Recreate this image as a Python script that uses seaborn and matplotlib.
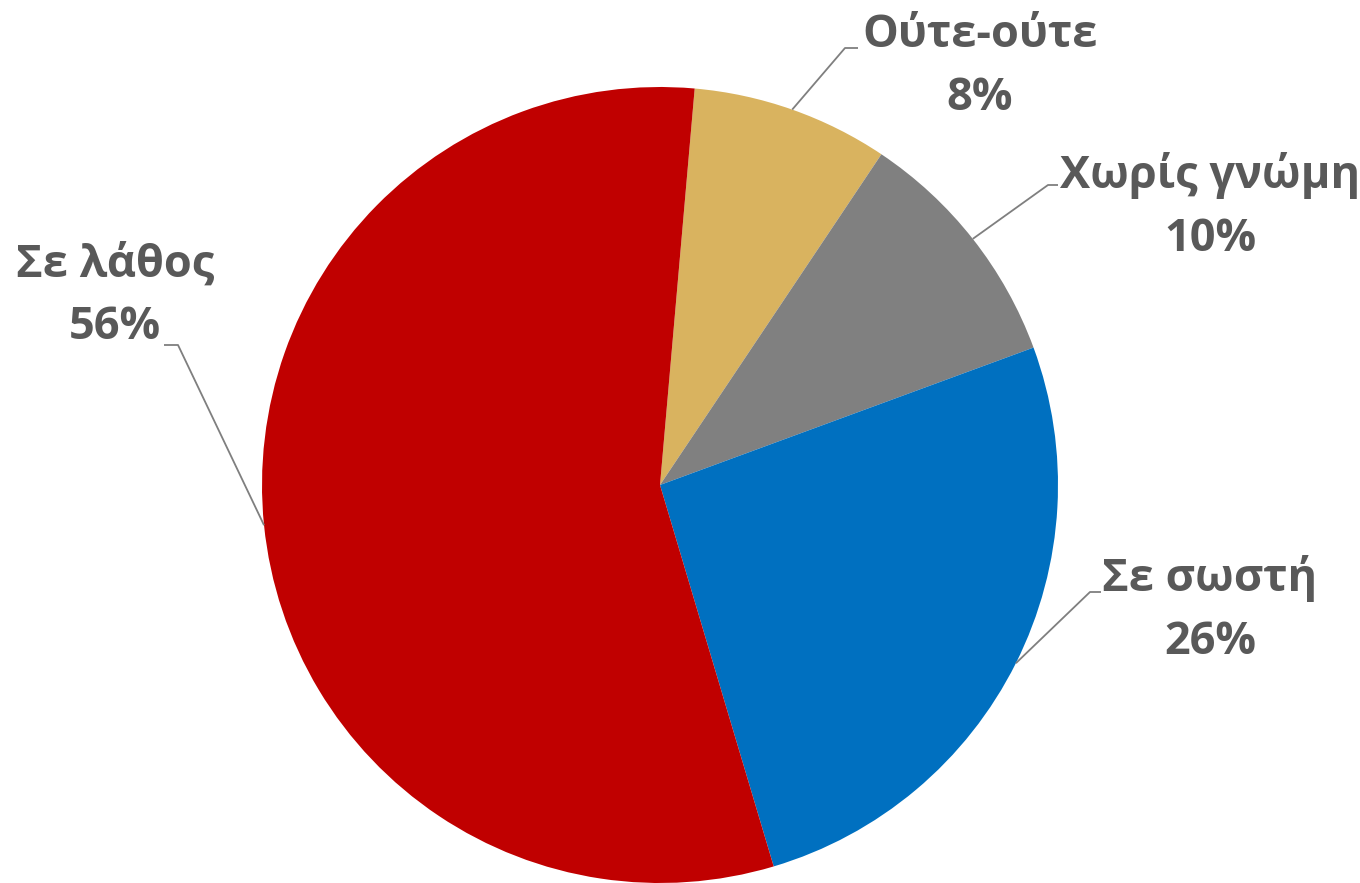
import numpy as np
import matplotlib
matplotlib.use("Agg")
import matplotlib.pyplot as plt
import seaborn as sns

categories = ["Ούτε-ούτε", "Χωρίς γνώμη", "Σε σωστή", "Σε λάθος"]
values = [8, 10, 26, 56]
colors = ["#D9B35F", "#808080", "#0070C0", "#C00000"]

sns.set_theme(style="white")
plt.rcParams['font.family'] = ['Open Sans', 'DejaVu Sans']

W, H = 1360, 883
CX, CY, R = 660, 485, 398

def px(x, y):
    return (x - CX) / R, (CY - y) / R

fig = plt.figure(figsize=(W / 100, H / 100), dpi=100)
ax = fig.add_axes([0, 0, 1, 1])
wedges, _ = ax.pie(values, colors=colors, startangle=85, counterclock=False,
                   radius=1.0, wedgeprops=dict(linewidth=0))
ax.set_xlim(-CX / R, (W - CX) / R)
ax.set_ylim(-(H - CY) / R, CY / R)
ax.set_aspect('auto')
ax.axis('off')

# label layout: (text center px, elbow px, elbow end px)
layout = {
    "Ούτε-ούτε": ((980, 67), (845, 48), (858, 48)),
    "Χωρίς γνώμη": ((1210, 207), (1048, 185), (1058, 185)),
    "Σε σωστή": ((1210, 610), (1090, 592), (1101, 592)),
    "Σε λάθος": ((115, 296), (178, 345), (164, 345)),
}

for w, cat, v in zip(wedges, categories, values):
    ang = np.deg2rad((w.theta1 + w.theta2) / 2)
    ex, ey = np.cos(ang), np.sin(ang)
    (tx, ty), (bx, by), (hx, hy) = layout[cat]
    b = px(bx, by)
    h = px(hx, hy)
    ax.plot([ex, b[0], h[0]], [ey, b[1], h[1]], color="#7F7F7F", lw=1.3,
            solid_capstyle="butt")
    t = px(tx, ty)
    ax.text(t[0], t[1], f"{cat}\n{v}%", ha="center", va="center",
            fontsize=32.5, fontweight="bold", color="#595959", linespacing=1.52)

fig.savefig("out.png", dpi=100)
